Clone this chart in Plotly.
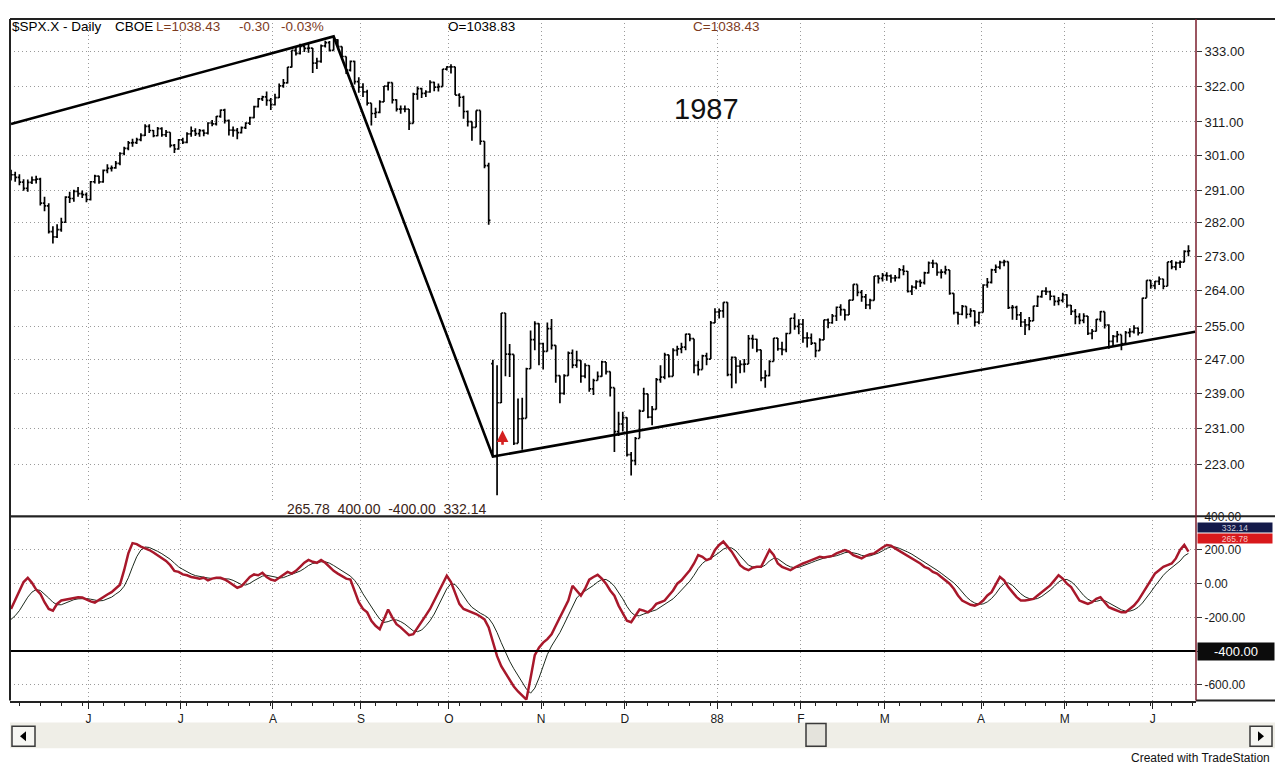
import math
import plotly.graph_objects as go

W, H = 1275, 767
FONT = "Liberation Sans, Arial, sans-serif"

# ---- S&P 500 daily bars, 6 May 1987 .. 15 Jun 1988 (one entry per session) ----
opens = [
    # May 87
    295.34, 295.47, 294.71, 293.37, 291.57, 293.30, 293.98, 294.24, 287.43, 286.65, 279.62, 278.21, 280.17, 282.16, 289.11, 288.73, 290.76,
    # Jun 87
    290.10, 289.83, 288.46, 293.47, 295.09, 293.45, 296.72, 297.28, 297.47, 298.73, 301.62, 303.14, 304.76, 304.81, 305.69, 306.97, 309.65, 308.43, 306.86, 308.96, 307.16, 307.90,
    # Jul 87
    304.00, 302.94, 305.63, 304.92, 307.40, 308.29, 307.52, 308.37, 307.63, 310.68, 310.42, 312.70, 314.59, 311.39, 308.55, 308.47, 307.81, 309.27, 310.65, 312.33, 315.65, 318.05,
    # Aug 87
    318.66, 317.57, 316.23, 318.45, 322.10, 323.00, 328.00, 333.33, 332.39, 334.65, 333.99, 334.11, 329.25, 329.83, 334.84, 335.90, 333.33, 336.77, 334.57, 331.38, 327.04,
    # Sep 87
    329.80, 323.40, 321.68, 320.21, 316.70, 313.56, 313.92, 317.13, 321.98, 323.08, 317.74, 314.86, 314.93, 314.86, 310.54, 319.50, 321.19, 319.72, 320.16, 323.20, 321.69,
    # Oct 87
    321.83, 327.33, 328.07, 328.08, 319.22, 318.54, 314.16, 311.07, 309.39, 314.52, 305.23, 298.08, 246.00, 224.84, 236.83, 258.38, 248.25, 248.22, 227.67, 233.19, 233.28, 244.77,
    # Nov 87
    251.79, 255.75, 250.82, 248.96, 254.48, 250.41, 243.17, 239.00, 243.14, 248.52, 245.64, 246.76, 243.04, 245.55, 240.05, 242.00, 242.99, 246.39, 244.10, 240.34,
    # Dec 87
    230.30, 232.00, 233.45, 225.21, 223.92, 228.76, 234.91, 238.89, 233.57, 235.32, 242.19, 242.81, 248.08, 242.98, 249.16, 249.54, 249.95, 253.16, 252.03, 245.57, 244.59, 247.86,
    # Jan 88
    247.08, 255.94, 258.63, 258.89, 261.07, 243.40, 247.49, 245.42, 245.81, 245.88, 252.05, 251.88, 249.32, 242.63, 243.14, 246.50, 252.17, 249.57, 249.38, 253.29,
    # Feb 88
    257.07, 255.04, 255.57, 252.21, 252.21, 250.96, 249.10, 251.72, 256.66, 255.95, 257.63, 259.83, 259.21, 257.91, 261.61, 265.64, 263.61, 262.46, 260.40, 261.58,
    # Mar 88
    267.82, 267.22, 267.98, 267.88, 267.30, 267.38, 269.43, 269.06, 263.84, 264.94, 266.37, 266.13, 268.65, 271.22, 271.12, 268.74, 268.84, 269.43, 263.35, 258.51, 258.06, 260.07, 258.07,
    # Apr 88
    258.89, 256.09, 258.51, 265.49, 266.16, 269.43, 270.16, 271.37, 271.58, 259.75, 259.77, 257.92, 256.13, 255.42, 256.42, 260.14, 262.51, 263.93, 263.80, 262.61,
    # May 88
    261.33, 261.56, 263.00, 260.32, 258.79, 257.48, 256.54, 257.62, 253.31, 253.85, 256.78, 258.71, 255.39, 251.35, 252.57, 253.02, 250.83, 253.51, 253.76, 254.63, 253.42,
    # Jun 88
    262.16, 266.69, 265.33, 266.45, 267.05, 265.17, 271.52, 270.20, 271.26, 271.43, 274.30,
]
highs = [
    296.9, 296.3, 295.6, 294.2, 294.1, 295.0, 295.2, 294.6, 289.2, 287.4, 281.1, 281.6, 283.4, 289.4, 290.6, 291.2, 292.0,
    291.0, 290.4, 293.7, 295.5, 295.2, 297.0, 298.5, 298.1, 299.4, 302.0, 303.6, 305.3, 306.0, 306.3, 307.6, 310.3, 310.3, 308.6, 309.5, 309.4, 308.6, 307.9,
    304.4, 305.9, 306.3, 307.9, 309.6, 309.1, 308.9, 308.7, 310.9, 311.6, 312.8, 314.8, 315.0, 311.7, 309.6, 309.2, 309.6, 310.9, 312.6, 315.9, 318.3, 319.0,
    320.3, 318.3, 319.6, 322.8, 324.2, 328.0, 333.4, 334.6, 335.5, 335.0, 335.6, 334.1, 331.0, 335.3, 336.5, 336.4, 337.9, 337.0, 334.6, 331.4, 330.1,
    330.0, 324.8, 322.9, 320.9, 316.7, 315.3, 317.6, 322.0, 323.4, 323.1, 317.9, 316.0, 316.0, 314.9, 319.9, 321.9, 321.5, 320.7, 323.8, 323.4, 322.8,
    327.4, 328.3, 328.9, 328.1, 319.8, 319.0, 314.5, 311.1, 314.5, 314.5, 305.2, 298.9, 246.9, 245.6, 258.4, 258.4, 250.7, 248.2, 237.8, 238.0, 245.0, 254.0,
    256.3, 255.8, 251.0, 256.0, 256.9, 250.4, 243.2, 243.5, 248.9, 249.4, 249.1, 246.8, 246.1, 245.6, 242.4, 244.1, 246.7, 246.4, 244.1, 240.3,
    234.8, 234.8, 233.5, 225.8, 229.1, 235.3, 240.3, 238.9, 236.1, 242.6, 245.6, 248.6, 248.1, 249.7, 250.3, 251.0, 253.2, 253.2, 252.0, 246.7, 248.1, 248.6,
    256.4, 259.6, 259.5, 261.1, 261.1, 247.7, 247.5, 246.8, 247.1, 252.9, 253.0, 252.0, 249.3, 244.4, 246.8, 252.2, 252.2, 251.3, 253.5, 257.1,
    258.3, 256.8, 256.9, 253.6, 253.3, 251.0, 252.1, 256.7, 257.0, 258.1, 260.0, 260.6, 259.3, 261.7, 265.7, 265.6, 264.2, 263.2, 262.0, 267.8,
    268.0, 268.6, 268.8, 268.2, 268.1, 269.9, 270.6, 269.1, 265.4, 266.7, 266.9, 268.9, 271.6, 272.1, 271.1, 269.6, 270.5, 269.4, 263.4, 258.7, 260.4, 260.1, 259.6,
    259.0, 258.7, 265.7, 267.3, 269.7, 270.8, 271.8, 272.1, 271.6, 260.4, 260.2, 258.6, 256.9, 257.4, 260.2, 262.8, 264.1, 264.9, 264.0, 262.8,
    262.4, 263.5, 263.1, 260.4, 259.4, 258.3, 258.3, 257.6, 254.4, 256.9, 258.9, 258.7, 255.6, 252.9, 253.9, 253.0, 253.9, 254.6, 255.3, 254.8, 262.2,
    266.7, 266.8, 266.5, 267.7, 267.1, 271.5, 272.0, 271.6, 271.9, 274.6, 275.9,
]
lows = [
    293.8, 293.5, 292.5, 290.9, 290.6, 292.8, 293.0, 286.8, 285.2, 279.1, 276.4, 277.9, 279.6, 282.0, 287.5, 287.8, 289.2,
    288.9, 287.7, 288.2, 293.0, 292.9, 293.2, 295.9, 296.4, 297.2, 298.2, 301.1, 302.6, 303.6, 304.4, 305.2, 306.8, 307.7, 306.4, 306.7, 306.6, 306.5, 303.4,
    301.8, 302.7, 304.4, 304.6, 306.6, 306.8, 306.6, 306.7, 307.2, 309.7, 309.9, 312.3, 310.5, 306.9, 306.6, 305.8, 307.5, 308.9, 310.1, 312.1, 315.4, 317.4,
    315.9, 314.6, 316.0, 318.3, 321.5, 322.8, 327.9, 331.7, 332.0, 332.8, 332.6, 326.1, 327.4, 329.4, 334.3, 333.0, 333.3, 334.4, 330.6, 325.8, 326.6,
    322.5, 319.9, 318.6, 316.0, 309.9, 312.2, 313.6, 317.1, 320.6, 316.6, 314.2, 313.5, 313.9, 308.6, 310.5, 317.8, 318.3, 318.6, 319.9, 320.4, 320.3,
    321.8, 326.9, 326.0, 319.2, 315.6, 312.0, 309.6, 305.4, 309.4, 304.2, 297.3, 281.5, 224.8, 216.5, 236.8, 243.0, 242.8, 227.3, 227.7, 226.3, 233.3, 244.8,
    249.2, 245.6, 244.6, 248.9, 249.4, 241.5, 236.7, 238.7, 243.1, 244.9, 245.0, 241.5, 242.5, 239.4, 238.6, 242.0, 242.9, 243.4, 238.3, 225.8,
    229.3, 230.3, 224.8, 220.7, 222.9, 228.8, 234.9, 233.3, 231.7, 235.3, 241.5, 242.3, 242.7, 243.0, 247.9, 248.5, 249.2, 251.4, 243.7, 243.2, 244.6, 245.6,
    247.1, 255.9, 257.0, 257.2, 243.0, 240.2, 241.3, 243.7, 243.9, 245.9, 249.6, 248.7, 241.8, 240.3, 243.0, 246.5, 249.1, 248.0, 248.7, 253.3,
    254.2, 253.1, 251.0, 249.9, 250.5, 247.5, 249.1, 251.7, 254.6, 255.7, 256.4, 257.7, 256.5, 257.9, 261.6, 262.6, 261.2, 259.4, 259.3, 261.5,
    265.9, 266.4, 266.6, 266.1, 266.4, 267.2, 268.0, 263.6, 262.9, 264.4, 265.0, 265.6, 268.5, 269.9, 267.9, 267.2, 268.2, 263.0, 258.0, 255.5, 257.8, 257.0, 257.3,
    255.0, 255.6, 258.5, 264.8, 265.9, 268.6, 269.6, 270.4, 259.4, 256.7, 256.6, 254.9, 252.9, 254.1, 256.4, 259.9, 262.2, 262.9, 261.6, 260.2,
    260.3, 261.0, 259.7, 257.9, 255.6, 255.6, 255.8, 252.9, 251.9, 253.8, 256.2, 254.5, 249.6, 250.0, 251.1, 249.2, 250.8, 252.4, 253.3, 252.8, 253.4,
    262.2, 264.5, 264.4, 265.5, 264.4, 265.2, 269.6, 269.3, 269.9, 271.4, 273.0,
]
closes = [
    295.47, 294.71, 293.37, 291.57, 293.30, 293.98, 294.24, 287.43, 286.65, 279.62, 278.21, 280.17, 282.16, 289.11, 288.73, 290.76, 290.10,
    289.83, 288.46, 293.47, 295.09, 293.45, 296.72, 297.28, 297.47, 298.73, 301.62, 303.14, 304.76, 304.81, 305.69, 306.97, 309.65, 308.43, 306.86, 308.96, 307.16, 307.90, 304.00,
    302.94, 305.63, 304.92, 307.40, 308.29, 307.52, 308.37, 307.63, 310.68, 310.42, 312.70, 314.59, 311.39, 308.55, 308.47, 307.81, 309.27, 310.65, 312.33, 315.65, 318.05, 318.66,
    317.57, 316.23, 318.45, 322.10, 323.00, 328.00, 333.33, 332.39, 334.65, 333.99, 334.11, 329.25, 329.83, 334.84, 335.90, 333.33, 336.77, 334.57, 331.38, 327.04, 329.80,
    323.40, 321.68, 320.21, 316.70, 313.56, 313.92, 317.13, 321.98, 323.08, 317.74, 314.86, 314.93, 314.86, 310.54, 319.50, 321.19, 319.72, 320.16, 323.20, 321.69, 321.83,
    327.33, 328.07, 328.08, 319.22, 318.54, 314.16, 311.07, 309.39, 314.52, 305.23, 298.08, 282.70, 224.84, 236.83, 258.38, 248.25, 248.22, 227.67, 233.19, 233.28, 244.77, 251.79,
    255.75, 250.82, 248.96, 254.48, 250.41, 243.17, 239.00, 243.14, 248.52, 245.64, 246.76, 243.04, 245.55, 240.05, 242.00, 242.99, 246.39, 244.10, 240.34, 230.30,
    232.00, 233.45, 225.21, 223.92, 228.76, 234.91, 238.89, 233.57, 235.32, 242.19, 242.81, 248.08, 242.98, 249.16, 249.54, 249.95, 253.16, 252.03, 245.57, 244.59, 247.86, 247.08,
    255.94, 258.63, 258.89, 261.07, 243.40, 247.49, 245.42, 245.81, 245.88, 252.05, 251.88, 249.32, 242.63, 243.14, 246.50, 252.17, 249.57, 249.38, 253.29, 257.07,
    255.04, 255.57, 252.21, 252.21, 250.96, 249.10, 251.72, 256.66, 255.95, 257.63, 259.83, 259.21, 257.91, 261.61, 265.64, 263.61, 262.46, 260.40, 261.58, 267.82,
    267.22, 267.98, 267.88, 267.30, 267.38, 269.43, 269.06, 263.84, 264.94, 266.37, 266.13, 268.65, 271.22, 271.12, 268.74, 268.84, 269.43, 263.35, 258.51, 258.06, 260.07, 258.07, 258.89,
    256.09, 258.51, 265.49, 266.16, 269.43, 270.16, 271.37, 271.58, 259.75, 259.77, 257.92, 256.13, 255.42, 256.42, 260.14, 262.51, 263.93, 263.80, 262.61, 261.33,
    261.56, 263.00, 260.32, 258.79, 257.48, 256.54, 257.62, 253.31, 253.85, 256.78, 258.71, 255.39, 251.35, 252.57, 253.02, 250.83, 253.51, 253.76, 254.63, 253.42, 262.16,
    266.69, 265.33, 266.45, 267.05, 265.17, 271.52, 270.20, 271.26, 271.43, 274.30, 274.45,
]

# ---- oscillator pane: fast line (red) and its signal line (black) ----
osc_fast = [
    -150, -100, -40, 10, 35, 5, -35, -60, -110, -150,
    -160, -120, -100, -95, -90, -85, -80, -82, -95, -105,
    -112, -95, -80, -64, -50, -30, -6, 80, 180, 241,
    235, 220, 210, 200, 185, 170, 150, 135, 110, 76,
    70, 55, 50, 40, 35, 30, 35, 20, 30, 35,
    35, 25, 10, -5, -24, -15, 10, 40, 55, 50,
    65, 40, 25, 18, 35, 55, 70, 60, 76, 100,
    125, 141, 130, 124, 140, 124, 100, 76, 60, 45,
    30, 24, -40, -110, -150, -170, -220, -250, -270, -210,
    -153, -200, -240, -259, -280, -306, -300, -260, -220, -188,
    -150, -100, -50, 0, 47, 10, -60, -120, -150, -159,
    -170, -180, -195, -212, -260, -350, -430, -490, -530, -570,
    -610, -640, -665, -688, -560, -424, -380, -350, -329, -300,
    -250, -200, -153, -100, -12, -40, -71, -30, 24, 40,
    53, 30, 0, -40, -71, -130, -180, -220, -229, -190,
    -153, -160, -170, -150, -120, -110, -100, -70, -40, 0,
    20, 50, 80, 120, 170, 160, 140, 150, 200, 230,
    250, 220, 190, 150, 110, 90, 80, 95, 100, 100,
    150, 200, 170, 120, 100, 90, 80, 95, 110, 120,
    130, 140, 150, 160, 155, 160, 165, 180, 190, 200,
    190, 170, 160, 150, 165, 175, 180, 200, 215, 230,
    225, 210, 195, 180, 170, 150, 135, 120, 100, 90,
    70, 60, 40, 20, 0, -30, -70, -100, -115, -125,
    -130, -120, -100, -70, -50, 0, 40, 20, -20, -50,
    -80, -100, -100, -95, -90, -70, -50, -30, -10, 20,
    50, 30, 0, -20, -60, -100, -110, -120, -110, -90,
    -80, -110, -140, -150, -160, -170, -170, -150, -130, -100,
    -60, -20, 20, 60, 80, 100, 110, 120, 150, 200, 230, 190,
]
osc_slow = [
    -212, -190, -160, -120, -80, -50, -35, -40, -60, -85,
    -110, -125, -125, -115, -105, -95, -90, -87, -88, -92,
    -98, -102, -100, -92, -80, -62, -45, -15, 35, 100,
    160, 200, 218, 215, 205, 192, 178, 162, 145, 122,
    100, 85, 70, 58, 48, 42, 38, 34, 31, 31,
    32, 32, 28, 20, 8, -5, -8, 2, 18, 34,
    45, 50, 47, 40, 34, 36, 46, 56, 64, 75,
    90, 108, 120, 126, 130, 130, 122, 108, 92, 76,
    60, 45, 20, -15, -60, -100, -140, -175, -210, -230,
    -225, -215, -215, -225, -240, -260, -280, -285, -275, -250,
    -220, -180, -130, -80, -30, 0, -5, -35, -75, -110,
    -140, -160, -175, -188, -205, -240, -290, -350, -410, -460,
    -505, -545, -585, -625, -650, -620, -560, -490, -420, -370,
    -330, -290, -240, -190, -130, -85, -60, -45, -30, -10,
    10, 25, 25, 10, -15, -50, -90, -135, -170, -190,
    -190, -180, -170, -163, -155, -140, -125, -110, -90, -65,
    -40, -15, 15, 50, 90, 120, 140, 150, 165, 185,
    205, 215, 212, 195, 165, 135, 110, 100, 98, 98,
    110, 135, 150, 148, 130, 112, 100, 95, 97, 105,
    115, 125, 135, 145, 152, 156, 160, 166, 174, 184,
    188, 185, 178, 168, 163, 165, 172, 182, 195, 210,
    218, 218, 210, 200, 188, 175, 160, 145, 130, 115,
    98, 80, 62, 44, 25, 5, -20, -50, -78, -100,
    -115, -122, -120, -108, -88, -60, -25, 0, 5, -10,
    -35, -60, -78, -88, -92, -88, -75, -58, -38, -15,
    10, 25, 25, 12, -10, -40, -70, -92, -105, -105,
    -98, -100, -115, -130, -143, -155, -163, -163, -155, -140,
    -115, -85, -50, -15, 20, 50, 75, 95, 112, 135, 165, 180,
]

# drawn trendlines: rising top, crash leg, rising support (bar index, price)
trend_bar = [0, 77, 115, 282.6]
trend_price = [310.4, 337.9, 224.8, 253.7]

month_first_bar = [17, 39, 61, 82, 103, 125, 145, 167, 187, 207, 230, 250, 271]
month_labels = ["J", "J", "A", "S", "O", "N", "D", "88", "F", "M", "A", "M", "J"]
price_ticks = [223, 231, 239, 247, 255, 264, 273, 282, 291, 301, 311, 322, 333]
osc_ticks = [400, 200, 0, -200, -400, -600]
osc_levels = [400, -400]
osc_last = {"fast": 265.78, "slow": 332.14}

# ---- pixel layout helpers ----
def fx(p):
    return p / W

def fy(p):
    return 1 - p / H

LEFT, RIGHT = 10, 1196
MAIN_TOP, MAIN_BOT = 12, 500
OSC_TOP, OSC_BOT = 514, 700
OSC_RANGE = [-694, 400]
X_RANGE = [-0.24, 282.8]
AXIS_RED = "#7a1e2c"
GRID = "#9a9a9a"
GRID_DASH = "1px,3px"

bars = list(range(len(closes)))
tick_pos = [b + 1.5 for b in month_first_bar]

fig = go.Figure()

fig.add_trace(go.Ohlc(
    x=bars, open=opens, high=highs, low=lows, close=closes,
    increasing=dict(line=dict(color="black", width=1.7)),
    decreasing=dict(line=dict(color="black", width=1.7)),
    tickwidth=0.42, xaxis="x", yaxis="y", hoverinfo="skip", showlegend=False,
))

fig.add_trace(go.Scatter(
    x=trend_bar, y=trend_price, mode="lines",
    line=dict(color="black", width=2.6), xaxis="x", yaxis="y",
    hoverinfo="skip", showlegend=False,
))

fig.add_trace(go.Scatter(
    x=bars, y=osc_slow, mode="lines", line=dict(color="#1d2a1d", width=1),
    xaxis="x2", yaxis="y2", hoverinfo="skip", showlegend=False,
))
fig.add_trace(go.Scatter(
    x=bars, y=osc_fast, mode="lines", line=dict(color="#a8182b", width=2.5),
    xaxis="x2", yaxis="y2", hoverinfo="skip", showlegend=False,
))

shapes = []
# reference levels in the oscillator pane
for lv in osc_levels:
    shapes.append(dict(type="line", xref="x2", yref="y2", x0=X_RANGE[0], x1=X_RANGE[1],
                       y0=lv, y1=lv, line=dict(color="black", width=2)))
# frame lines
shapes += [
    dict(type="line", xref="paper", yref="paper", x0=fx(LEFT), x1=1, y0=fy(MAIN_TOP), y1=fy(MAIN_TOP),
         line=dict(color="#222", width=2)),
    dict(type="line", xref="paper", yref="paper", x0=fx(LEFT), x1=1, y0=fy(OSC_TOP), y1=fy(OSC_TOP),
         line=dict(color="#222", width=2)),
    dict(type="line", xref="paper", yref="paper", x0=fx(RIGHT), x1=1, y0=fy(OSC_BOT), y1=fy(OSC_BOT),
         line=dict(color="#222", width=2)),
    dict(type="line", xref="paper", yref="paper", x0=fx(LEFT), x1=fx(LEFT), y0=fy(MAIN_TOP), y1=fy(OSC_BOT),
         line=dict(color="#222", width=2)),
    dict(type="line", xref="paper", yref="paper", x0=fx(RIGHT), x1=fx(RIGHT), y0=fy(MAIN_TOP), y1=fy(OSC_BOT),
         line=dict(color=AXIS_RED, width=1.5)),
]
# scroll bar strip with buttons and thumb
shapes += [
    dict(type="rect", xref="paper", yref="paper", x0=fx(LEFT), x1=1, y0=fy(748), y1=fy(722),
         fillcolor="#efeee7", line=dict(width=0), layer="below"),
    dict(type="rect", xref="paper", yref="paper", x0=fx(12), x1=fx(35), y0=fy(746), y1=fy(726),
         fillcolor="#f6f6f2", line=dict(color="#3a3a3a", width=1.5)),
    dict(type="rect", xref="paper", yref="paper", x0=fx(1250), x1=fx(1272), y0=fy(746), y1=fy(726),
         fillcolor="#f6f6f2", line=dict(color="#3a3a3a", width=1.5)),
    dict(type="rect", xref="paper", yref="paper", x0=fx(806), x1=fx(826), y0=fy(746), y1=fy(723),
         fillcolor="#e4e3dc", line=dict(color="#3a3a3a", width=1.5)),
    dict(type="path", xref="paper", yref="paper",
         path=f"M {fx(20)} {fy(736)} L {fx(26)} {fy(731)} L {fx(26)} {fy(741)} Z",
         fillcolor="black", line=dict(width=0)),
    dict(type="path", xref="paper", yref="paper",
         path=f"M {fx(1264)} {fy(736)} L {fx(1258)} {fy(731)} L {fx(1258)} {fy(741)} Z",
         fillcolor="black", line=dict(width=0)),
]

def text(x, y, s, size=13, color="black", anchor="left"):
    return dict(xref="paper", yref="paper", x=fx(x), y=fy(y), text=s, showarrow=False,
                xanchor=anchor, yanchor="middle", font=dict(family=FONT, size=size, color=color))

annotations = [
    text(10, 20, "$SPX.X - Daily", 13.5),
    text(113, 20, "CBOE", 13.5),
    text(154, 20, "L=1038.43", 13.5, "#7d3b1e"),
    text(237, 20, "-0.30", 13.5, "#7d3b1e"),
    text(279, 20, "-0.03%", 13.5, "#7d3b1e"),
    text(446, 20, "O=1038.83", 13.5),
    text(691, 20, "C=1038.43", 13.5, "#7d3b1e"),
    text(706, 103, "1987", 29, "#111", "center"),
    text(386, 507, "265.78  400.00  -400.00  332.14", 14, "#3b2418", "center"),
    text(1272, 758, "Created with TradeStation", 12, "#111", "right"),
]

def osc_px(v):
    # pixel row of an oscillator value inside its pane
    return OSC_TOP + (OSC_RANGE[1] - v) * (OSC_BOT - OSC_TOP) / (OSC_RANGE[1] - OSC_RANGE[0])

# last-value markers on the oscillator scale
for key, bg, fg in (("slow", "#141a4a", "#c9c9d8"), ("fast", "#d8191c", "#f6c7c7")):
    annotations.append(dict(xref="paper", yref="paper", x=fx(1197), y=fy(osc_px(osc_last[key])),
                            text=f"{osc_last[key]:.2f}", showarrow=False, xanchor="left", yanchor="middle",
                            width=74, height=9, align="center", bgcolor=bg, borderpad=0,
                            font=dict(family=FONT, size=8.5, color=fg)))
annotations.append(dict(xref="paper", yref="paper", x=fx(1197), y=fy(osc_px(-400)),
                        text="-400.00", showarrow=False, xanchor="left", yanchor="middle",
                        width=74, height=15, align="center", bgcolor="#0c0c0c",
                        font=dict(family=FONT, size=13, color="white")))
# buy marker under the crash low
annotations.append(dict(x=117.3, y=math.log10(230.6), xref="x", yref="y", text="", showarrow=True,
                        ax=0, ay=16, arrowhead=2, arrowsize=0.9, arrowwidth=2.6, arrowcolor="#d42020"))

axis_font = dict(family=FONT, size=13, color="#1a1a1a")
osc_font = dict(family=FONT, size=12, color="#1a1a1a")
# the -400 level carries its own boxed label
osc_tick_text = ["" if v in osc_levels and v < 0 else f"{v:.2f}" for v in osc_ticks]

fig.update_layout(
    width=W, height=H, margin=dict(l=0, r=0, t=0, b=0),
    paper_bgcolor="white", plot_bgcolor="white", showlegend=False,
    shapes=shapes, annotations=annotations,
    xaxis=dict(domain=[fx(LEFT), fx(RIGHT)], range=X_RANGE, anchor="y",
               tickvals=tick_pos, showticklabels=False, ticks="",
               showgrid=True, gridcolor=GRID, griddash=GRID_DASH, gridwidth=1,
               zeroline=False, showline=False, rangeslider=dict(visible=False), fixedrange=True),
    yaxis=dict(domain=[fy(MAIN_BOT), fy(MAIN_TOP)], type="log",
               range=[math.log10(215.0), math.log10(343.7)], anchor="x", side="right",
               tickvals=price_ticks, ticktext=[f"{v:.2f}" for v in price_ticks],
               ticks="outside", ticklen=5, tickcolor="#333", tickfont=axis_font,
               showgrid=True, gridcolor=GRID, griddash=GRID_DASH, gridwidth=1,
               showline=False, zeroline=False, fixedrange=True),
    xaxis2=dict(domain=[fx(LEFT), fx(RIGHT)], range=X_RANGE, anchor="y2",
                tickvals=tick_pos, ticktext=month_labels, tickfont=dict(family=FONT, size=12, color="#1a1a1a"),
                ticks="outside", ticklen=6, tickcolor="#222",
                minor=dict(ticks="outside", ticklen=3, dtick=5, tick0=2, tickcolor="#222", showgrid=False),
                showgrid=True, gridcolor=GRID, griddash=GRID_DASH, gridwidth=1,
                showline=True, linecolor="#222", linewidth=2, zeroline=False, fixedrange=True),
    yaxis2=dict(domain=[fy(OSC_BOT), fy(OSC_TOP)], range=OSC_RANGE, anchor="x2", side="right",
                tickvals=osc_ticks, ticktext=osc_tick_text,
                ticks="outside", ticklen=5, tickcolor="#333", tickfont=osc_font,
                showgrid=True, gridcolor=GRID, griddash=GRID_DASH, gridwidth=1,
                showline=False, zeroline=False, fixedrange=True),
)

fig.write_html("out.html", include_plotlyjs=True, config={"displayModeBar": False})
